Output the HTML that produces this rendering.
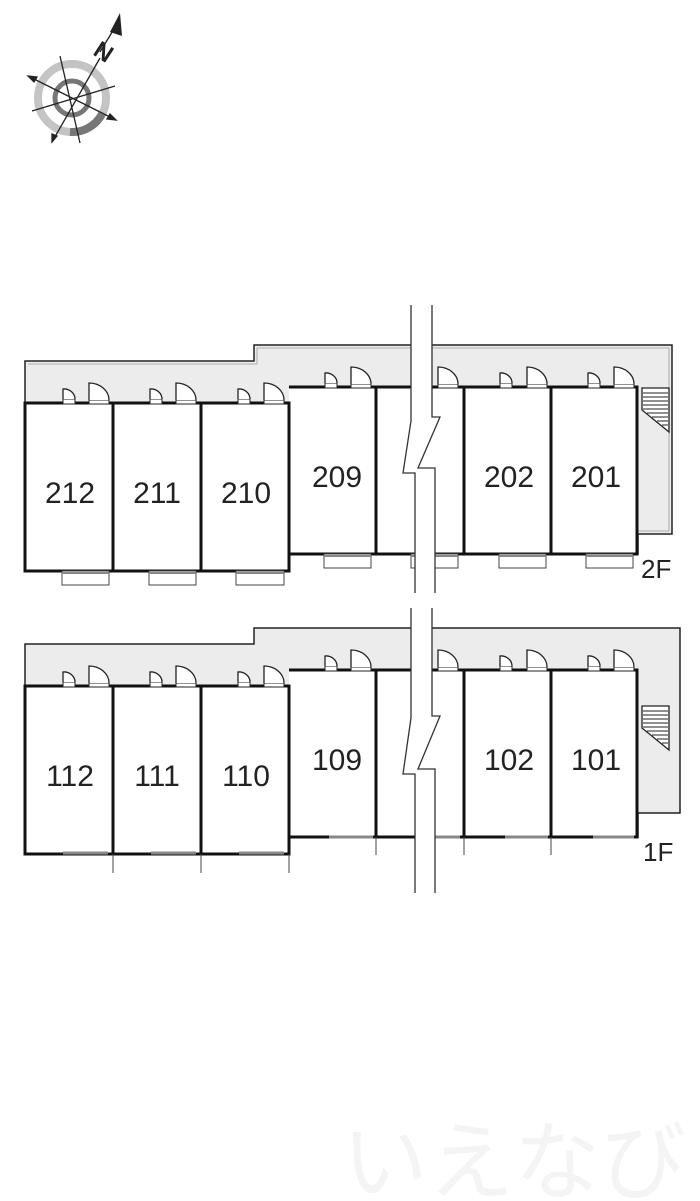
<!DOCTYPE html>
<html><head><meta charset="utf-8"><style>
html,body{margin:0;padding:0;background:#fff;}
svg{display:block;}
text{font-family:"Liberation Sans",sans-serif;}
</style></head><body>
<svg width="700" height="1201" viewBox="0 0 700 1201" xmlns="http://www.w3.org/2000/svg">
<defs>
<g id="dS"><rect x="0" y="-4" width="12" height="5" fill="#fff" stroke="#222" stroke-width="1"/><path d="M0,-4 V-14 A11,10 0 0 1 12,-4" fill="#fff" stroke="#222" stroke-width="1.3"/></g>
<g id="dB"><rect x="0" y="-3" width="20" height="4" fill="#fff" stroke="#222" stroke-width="1"/><path d="M0,-3 V-20 A20,17 0 0 1 20,-3" fill="#fff" stroke="#222" stroke-width="1.3"/></g>
<g id="stair" fill="none" stroke="#222" stroke-width="1">
<path d="M0,0 H27 V44 L0,22 Z" fill="#fff" stroke-width="1.3"/>
<path d="M1,5H26M1,9H26M1,13H26M1,17H26M1,21H26M5,25H26M10,29H26M15,33H26M20,37H26"/>
</g>
</defs>

<g transform="translate(72,98)">
<circle r="34" fill="none" stroke="#c4c4c4" stroke-width="8"/>
<path d="M-2,34 A34,34 0 0 0 30,16" fill="none" stroke="#777" stroke-width="8"/>
<circle r="17" fill="none" stroke="#777" stroke-width="5"/>
<g stroke="#222" stroke-width="1.3" fill="#222">
<line x1="-44" y1="-22" x2="44" y2="22"/><line x1="-40" y1="13" x2="43" y2="-12"/>
<line x1="-12" y1="-42" x2="8" y2="45"/><line x1="-20" y1="44" x2="28" y2="-40"/>
<path d="M-44,-22 l9,1 l-3,5z"/><path d="M44,22 l-9,-1 l3,-5z"/><path d="M-20,44 l0,-8 l5,2z"/>
</g>
</g>
<path d="M110,32 L120,13 L122,36 Z" fill="#222"/>
<line x1="100" y1="52" x2="117" y2="24" stroke="#222" stroke-width="1.3"/>
<text x="96" y="60" font-size="24" font-weight="bold" fill="#222" transform="rotate(33 104 50)">N</text>

<path d="M25,361 H254 V345 H672 V534 H638 V554 H289 V571 H25 Z" fill="#ececec" stroke="#222" stroke-width="1.5"/>
<path d="M28,364 H257 V348 H669 V531 H638" fill="none" stroke="#999" stroke-width="0.8"/>
<rect x="25" y="403" width="264" height="168" fill="#fff"/>
<rect x="289" y="387" width="348" height="167" fill="#fff"/>
<g fill="none" stroke="#111" stroke-width="3">
<path d="M25,403 H289 V571 H25 Z"/>
<path d="M289,387 H637 V554 H289"/>
<path d="M113,403 V571 M201,403 V571 M376,387 V554 M464,387 V554 M551,387 V554"/>
</g>
<use href="#dS" x="63" y="403"/><use href="#dB" x="89" y="403"/>
<use href="#dS" x="150" y="403"/><use href="#dB" x="176" y="403"/>
<use href="#dS" x="238" y="403"/><use href="#dB" x="264" y="403"/>
<use href="#dS" x="325" y="387"/><use href="#dB" x="351" y="387"/>
<use href="#dB" x="438" y="387"/>
<use href="#dS" x="500" y="387"/><use href="#dB" x="527" y="387"/>
<use href="#dS" x="588" y="387"/><use href="#dB" x="614" y="387"/>
<use href="#stair" x="642" y="388"/>
<g fill="#fff" stroke="#444" stroke-width="1">
<rect x="62" y="571" width="47" height="14"/><rect x="149" y="571" width="47" height="14"/><rect x="236" y="571" width="48" height="14"/>
<rect x="324" y="554" width="47" height="14"/><rect x="411" y="554" width="47" height="14"/><rect x="499" y="554" width="47" height="14"/><rect x="586" y="554" width="47" height="14"/>
</g>
<g stroke="#888" stroke-width="2"><path d="M62,573H109M149,573H196M236,573H284M324,556H371M411,556H458M499,556H546M586,556H633"/></g>
<path d="M411,305 V421 L403,473 H415 V593 H435 V468 H418 L440,417 H432 V305 Z" fill="#fff"/>
<path d="M411,305 V421 L403,473 H415 V593 M432,305 V417 H440 L418,468 H435 V593" fill="none" stroke="#333" stroke-width="1.3"/>
<g font-size="30" fill="#222" text-anchor="middle">
<text x="70" y="503">212</text><text x="157" y="503">211</text><text x="246" y="503">210</text>
<text x="337" y="487">209</text><text x="509" y="487">202</text><text x="596" y="487">201</text>
</g>
<text x="641" y="578" font-size="26" fill="#222">2F</text>

<path d="M25,644 H254 V628 H680 V813 H638 V837 H289 V854 H25 Z" fill="#ececec" stroke="#222" stroke-width="1.5"/>
<rect x="25" y="686" width="264" height="168" fill="#fff"/>
<rect x="289" y="670" width="348" height="167" fill="#fff"/>
<g fill="none" stroke="#111" stroke-width="3">
<path d="M25,686 H289 V854 H25 Z"/>
<path d="M289,670 H637 V837 H289"/>
<path d="M113,686 V854 M201,686 V854 M376,670 V837 M464,670 V837 M551,670 V837"/>
</g>
<g stroke="#444" stroke-width="1"><path d="M113,854V873M201,854V873M289,854V873M376,837V855M464,837V855M551,837V855"/></g>
<g stroke="#888" stroke-width="3"><path d="M63,853H108M151,853H196M239,853H284M329,837H373M417,837H460M505,837H548M593,837H634"/></g>
<use href="#dS" x="63" y="686"/><use href="#dB" x="89" y="686"/>
<use href="#dS" x="150" y="686"/><use href="#dB" x="176" y="686"/>
<use href="#dS" x="238" y="686"/><use href="#dB" x="264" y="686"/>
<use href="#dS" x="325" y="670"/><use href="#dB" x="351" y="670"/>
<use href="#dB" x="438" y="670"/>
<use href="#dS" x="500" y="670"/><use href="#dB" x="527" y="670"/>
<use href="#dS" x="588" y="670"/><use href="#dB" x="614" y="670"/>
<use href="#stair" x="642" y="706"/>
<path d="M411,608 V718 L403,774 H415 V893 H435 V769 H418 L440,716 H432 V608 Z" fill="#fff"/>
<path d="M411,608 V718 L403,774 H415 V893 M432,608 V716 H440 L418,769 H435 V893" fill="none" stroke="#333" stroke-width="1.3"/>
<g font-size="30" fill="#222" text-anchor="middle">
<text x="70" y="786">112</text><text x="157" y="786">111</text><text x="246" y="786">110</text>
<text x="337" y="770">109</text><text x="509" y="770">102</text><text x="596" y="770">101</text>
</g>
<text x="643" y="861" font-size="26" fill="#222">1F</text>

<text x="342" y="1192" font-size="86" fill="#f4f4f4" font-family="'Liberation Sans','Noto Sans CJK JP',sans-serif">いえなび</text>
</svg>
</body></html>
